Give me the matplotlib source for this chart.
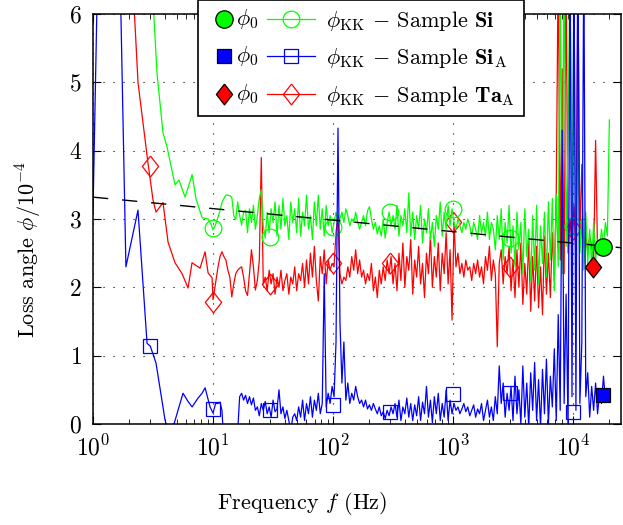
import numpy as np
import matplotlib
matplotlib.use("Agg")
import matplotlib.pyplot as plt
from matplotlib.lines import Line2D
from matplotlib.text import Text
from matplotlib.legend_handler import HandlerBase

plt.rcParams['font.family'] = ['cmr10', 'DejaVu Serif']
plt.rcParams['mathtext.fontset'] = 'cm'
plt.rcParams['axes.formatter.use_mathtext'] = True
plt.rcParams['axes.unicode_minus'] = False

# ---------------- data ----------------
fit_f = [1.0, 25000.0]
fit_phi = [3.32, 2.58]

# common sampling grid of the dense (noisy) part of the spectra
grid_f = np.geomspace(11, 20000, 200)

# Sample Si (green)
si_low_f = [2.99, 3.41, 3.83, 4.13, 4.82, 5.2, 5.85, 6.69, 7.2, 8.1, 9.1, 9.63, 10.0, 10.6]
si_low_phi = [7.0, 5.14, 4.26, 4.06, 3.50, 3.57, 3.32, 3.65, 3.30, 3.02, 3.00, 2.92, 2.84, 2.94]
si_grid_phi = [
    3.03, 3.12, 3.24, 3.30, 3.35, 3.35, 3.34, 3.32, 3.05, 2.99,
    3.25, 3.05, 2.91, 3.10, 3.13, 2.80, 3.15, 2.95, 3.20, 2.85,
    3.05, 3.30, 3.43, 2.90, 2.72, 3.10, 2.80, 3.15, 2.95, 3.25,
    2.75, 3.20, 2.85, 3.30, 2.90, 3.05, 2.70, 3.25, 2.95, 3.15,
    2.80, 3.30, 2.75, 3.10, 2.90, 3.35, 2.85, 3.05, 2.70, 3.25,
    2.90, 3.35, 2.85, 3.15, 2.75, 3.20, 2.90, 3.05, 2.80, 2.95,
    3.10, 2.95, 3.00, 3.10, 2.95, 3.15, 3.05, 2.90, 3.00, 2.95,
    3.10, 2.95, 2.85, 2.95, 3.05, 2.90, 3.12, 3.18, 3.00, 2.85,
    2.95, 2.78, 2.90, 2.75, 3.00, 2.72, 2.95, 3.10, 2.90, 3.05,
    2.85, 3.20, 2.75, 3.05, 2.90, 3.15, 2.80, 3.38, 2.75, 3.10,
    2.70, 3.05, 2.85, 3.20, 2.65, 3.00, 2.80, 3.15, 2.70, 2.95,
    2.60, 3.05, 2.85, 3.25, 2.75, 3.10, 2.85, 3.20, 2.90, 3.15,
    2.95, 2.85, 3.00, 2.90, 2.80, 2.95, 2.85, 3.00, 2.90, 2.75,
    2.95, 2.85, 2.70, 3.05, 2.80, 2.95, 2.75, 3.10, 2.70, 2.95,
    2.85, 2.55, 3.05, 2.70, 3.15, 2.40, 2.95, 2.65, 3.20, 2.50,
    2.90, 2.30, 3.10, 2.55, 2.95, 2.20, 3.15, 2.45, 2.85, 2.10,
    3.05, 2.25, 3.20, 2.05, 2.90, 2.35, 3.10, 2.15, 3.25, 2.40,
    3.30, 1.95, 3.35, 2.30, 6.50, 2.20, 7.00, 2.60, 4.20, 6.80,
    2.70, 6.50, 2.40, 4.30, 2.50, 3.00, 2.25, 3.10, 2.35, 2.85,
    2.30, 2.95, 2.40, 2.70, 2.55, 2.85, 2.60, 2.95, 2.75, 4.45,
]
si_mk_f = [10, 30, 100, 300, 1000, 3000, 10000]
si_mk_phi = [2.87, 2.74, 2.88, 3.10, 3.15, 2.72, 2.90]
si_phi0_f = [17800]
si_phi0 = [2.59]

# Sample Si_A (blue)
siA_low_f = [1.0, 1.25, 1.58, 1.88, 2.37, 2.82, 3.0, 3.35, 3.98, 4.38, 5.62, 6.19, 6.69, 7.5, 8.1, 8.58, 9.44, 10.0, 10.5]
siA_low_phi = [3.1, 12.0, 9.0, 2.3, 3.13, 1.18, 1.14, 0.89, 0.06, -0.2, 0.45, 0.33, 0.25, 0.38, 0.45, 0.53, 0.25, 0.16, 0.30]
siA_grid_phi = [
    0.30, 0.32, 0.20, -0.30, -0.50, -0.50, -0.40, -0.50, -0.40, -0.30,
    -0.10, 0.40, 0.45, 0.35, 0.42, 0.30, 0.40, 0.28, 0.38, 0.20,
    0.25, 0.12, 0.30, 0.20, 0.33, 0.15, 0.25, 0.10, 0.35, 0.18,
    0.22, 0.50, 0.15, 0.25, 0.08, 0.20, 0.05, -0.10, 0.10, 0.15,
    0.05, 0.25, 0.10, 0.35, 0.05, 0.30, 0.15, 0.40, 0.10, 0.35,
    0.20, 0.45, 0.15, 0.30, 2.20, 0.25, 0.45, 0.30, 0.55, 0.40,
    1.20, 4.33, 1.50, 0.60, 1.20, 0.35, 0.60, 0.30, 0.45, 0.35,
    0.55, 0.40, 0.30, 0.35, 0.25, 0.35, 0.22, 0.28, 0.20, 0.30,
    0.22, 0.15, 0.25, 0.12, 0.18, 0.08, 0.20, 0.12, 0.25, 0.15,
    0.30, 0.10, 0.35, 0.05, 0.25, 0.15, 0.38, 0.10, 0.30, 0.05,
    0.28, 0.12, 0.40, 0.05, 0.32, 0.15, 0.55, 0.10, 0.35, 0.02,
    0.40, 0.15, 0.45, 0.05, 0.30, 0.10, 0.50, 0.05, 0.35, 0.15,
    0.30, 0.20, 0.25, 0.15, 0.22, 0.30, 0.18, 0.25, 0.12, 0.20,
    0.28, 0.10, 0.22, 0.15, 0.30, 0.05, 0.20, 0.35, 0.10, 0.25,
    0.05, 0.40, 0.15, 0.85, 0.30, 0.60, 0.10, 0.45, 0.20, 0.55,
    0.05, 0.70, 0.15, 0.50, 0.00, 0.85, 0.10, 0.60, -0.05, 0.75,
    0.20, 0.90, 0.05, 0.65, -0.05, 0.80, 0.15, 0.95, 0.00, 0.70,
    0.25, 1.10, 0.05, 1.60, 0.20, 4.30, 0.30, 1.90, -0.10, 7.00,
    0.40, 7.00, 0.20, 7.50, 0.30, 1.20, 7.00, 0.40, 0.75, 0.10,
    0.55, 0.20, 0.60, 0.15, 0.45, 0.30, 0.70, 0.35,
]
siA_mk_f = [3, 10, 30, 100, 300, 1000, 3000, 10000]
siA_mk_phi = [1.14, 0.22, 0.20, 0.28, 0.18, 0.44, 0.45, 0.18]
siA_phi0_f = [17800]
siA_phi0 = [0.42]

# Sample Ta_A (red)
taA_low_f = [2.07, 2.37, 2.87, 3.16, 3.35, 3.83, 4.22, 4.82, 5.52, 6.19, 6.68, 7.79, 8.58, 9.09, 9.81, 10.0]
taA_low_phi = [7.0, 5.0, 3.82, 3.28, 3.10, 3.24, 2.66, 2.36, 2.20, 1.99, 2.36, 2.28, 2.52, 2.21, 2.14, 1.82]
taA_grid_phi = [
    2.30, 2.45, 2.52, 2.45, 2.40, 2.25, 2.15, 1.86, 2.05, 2.20,
    2.25, 2.28, 2.30, 2.15, 1.95, 1.88, 2.20, 2.55, 2.30, 1.96,
    2.10, 2.40, 3.90, 2.05, 2.15, 1.95, 2.25, 2.05, 2.20, 1.90,
    2.15, 2.00, 2.25, 1.95, 2.10, 2.20, 1.90, 2.15, 2.05, 2.30,
    1.95, 2.20, 2.10, 2.35, 2.00, 2.40, 2.05, 2.50, 2.15, 2.60,
    2.10, 1.80, 2.45, 2.20, 2.55, 2.05, 2.40, 2.25, 2.35, 2.30,
    2.80, 3.05, 2.20, 2.05, 2.15, 2.10, 2.30, 2.15, 2.45, 2.25,
    2.55, 2.20, 2.40, 2.15, 2.25, 2.05, 2.20, 2.10, 2.35, 1.95,
    2.15, 1.85, 2.25, 2.05, 2.30, 2.10, 2.40, 2.20, 2.45, 2.05,
    2.35, 1.95, 2.50, 2.10, 2.65, 2.00, 2.45, 2.25, 2.70, 1.90,
    2.40, 2.15, 2.60, 2.05, 2.35, 1.85, 2.50, 2.20, 2.75, 2.00,
    2.45, 2.15, 2.65, 1.95, 2.50, 2.20, 2.80, 2.05, 2.55, 1.52,
    2.95, 2.30, 2.50, 2.20, 2.35, 2.15, 2.40, 2.25, 2.30, 2.10,
    2.35, 2.20, 2.40, 2.15, 2.30, 2.05, 2.45, 2.25, 2.60, 2.10,
    2.40, 2.20, 1.13, 2.35, 2.55, 2.05, 2.45, 2.20, 2.60, 1.95,
    2.40, 1.85, 2.55, 2.00, 2.65, 1.75, 2.35, 1.90, 2.70, 1.65,
    2.45, 1.80, 2.60, 1.70, 2.30, 1.60, 2.75, 1.90, 2.50, 1.85,
    2.80, 2.10, 3.40, 6.80, 2.40, 5.20, 2.20, 6.60, 2.50, 3.00,
    2.60, 3.20, 2.45, 6.50, 2.70, 3.80, 2.35, 2.80, 2.50, 2.75,
    2.60, 2.40, 4.15, 2.50,
]
taA_mk_f = [3, 10, 30, 100, 300, 1000, 3000, 10000]
taA_mk_phi = [3.78, 1.78, 2.05, 2.36, 2.36, 2.96, 2.30, 2.85]
taA_phi0_f = [14700]
taA_phi0 = [2.30]

# ---------------- styles ----------------
GREEN, BLUE, RED = '#00ff00', '#0000ff', '#ff0000'
DIAMOND = [(0, 1), (0.78, 0), (0, -1), (-0.78, 0), (0, 1)]
LW = 0.9
FS = 16


def series(low_f, low_phi, grid_phi):
    f = np.concatenate([np.asarray(low_f, float), grid_f[:len(grid_phi)]])
    p = np.concatenate([np.asarray(low_phi, float), np.asarray(grid_phi, float)])
    return f, p


fig = plt.figure(figsize=(6.23, 5.25), dpi=100)
ax = fig.add_axes([93 / 623, 101 / 525, 528 / 623, 410 / 525])

samples = [
    ('Ta', RED, DIAMOND, 15, 15, taA_low_f, taA_low_phi, taA_grid_phi, taA_mk_f, taA_mk_phi, taA_phi0_f, taA_phi0),
    ('Si', GREEN, 'o', 12, 12.5, si_low_f, si_low_phi, si_grid_phi, si_mk_f, si_mk_phi, si_phi0_f, si_phi0),
    ('SiA', BLUE, 's', 9.5, 9.5, siA_low_f, siA_low_phi, siA_grid_phi, siA_mk_f, siA_mk_phi, siA_phi0_f, siA_phi0),
]
z = 2
for name, col, mk, ms_o, ms_f, lf, lp, gp, mf, mp, pf, pp in samples:
    f, p = series(lf, lp, gp)
    ax.plot(f, p, color=col, lw=LW, zorder=z)
    ax.plot(mf, mp, ls='none', marker=mk, ms=ms_o, mfc='none', mec=col, mew=0.9, zorder=z)
    z += 0.1

ax.plot(fit_f, fit_phi, color='k', lw=1.0, dashes=(11, 10), zorder=3)

for name, col, mk, ms_o, ms_f, lf, lp, gp, mf, mp, pf, pp in samples:
    ax.plot(pf, pp, ls='none', marker=mk, ms=ms_f, mfc=col, mec='k', mew=0.9, zorder=4)

ax.set_xscale('log')
ax.set_xlim(1, 25000)
ax.set_ylim(0, 6)
ax.set_yticks([0, 1, 2, 3, 4, 5, 6])
ax.grid(True, which='major', color='k', lw=0.8, ls=(0, (1, 8)))
ax.tick_params(which='both', direction='in', top=True, right=True, labelsize=17)
ax.tick_params(which='major', length=6, width=0.8, pad=8)
ax.tick_params(which='minor', length=3.5, width=0.6)
for s in ax.spines.values():
    s.set_linewidth(1.1)

ax.set_xlabel(r'Frequency $f$ (Hz)', fontsize=FS)
ax.set_ylabel(r'Loss angle $\phi/10^{-4}$', fontsize=FS)
ax.xaxis.set_label_coords((302 - 93) / 528, (424 - 490) / 410)
ax.yaxis.set_label_coords((44 - 93) / 528, (424 - 250) / 410)


# ---------------- legend ----------------
class Row:
    def __init__(self, color, marker, ms_fill, ms_open):
        self.color, self.marker, self.ms_fill, self.ms_open = color, marker, ms_fill, ms_open


class RowHandler(HandlerBase):
    def create_artists(self, legend, h, xdescent, ydescent, width, height, fontsize, trans):
        y = height / 2.0 - ydescent
        x0 = -xdescent
        a1 = Line2D([x0 + 12], [y], ls='none', marker=h.marker, ms=h.ms_fill,
                    mfc=h.color, mec='k', mew=0.9, transform=trans)
        t = Text(x0 + 21, y, r'$\phi_0$', fontsize=fontsize, va='center', ha='left',
                 transform=trans)
        ln = Line2D([x0 + 43, x0 + 78], [y, y], color=h.color, lw=LW, transform=trans)
        a2 = Line2D([x0 + 60.5], [y], ls='none', marker=h.marker, ms=h.ms_open,
                    mfc='none', mec=h.color, mew=0.9, transform=trans)
        return [a1, t, ln, a2]


rows = [Row(GREEN, 'o', 12.5, 12), Row(BLUE, 's', 9.5, 9.5), Row(RED, DIAMOND, 15, 15)]
labels = [r'$\phi_{\mathrm{KK}}$ $-$ Sample $\mathbf{Si}$',
          r'$\phi_{\mathrm{KK}}$ $-$ Sample $\mathbf{Si}_{\mathrm{A}}$',
          r'$\phi_{\mathrm{KK}}$ $-$ Sample $\mathbf{Ta}_{\mathrm{A}}$']
leg = ax.legend(rows, labels, handler_map={Row: RowHandler()}, loc='upper left',
                bbox_to_anchor=(198 / 623, 1.0), bbox_transform=fig.transFigure,
                borderaxespad=0, fontsize=FS, handlelength=80 / FS, handletextpad=0.36,
                labelspacing=0.6, borderpad=0.4, fancybox=False, framealpha=1,
                edgecolor='k')
leg.get_frame().set_linewidth(1.2)
leg.set_zorder(10)

fig.savefig('out.png', dpi=100)
